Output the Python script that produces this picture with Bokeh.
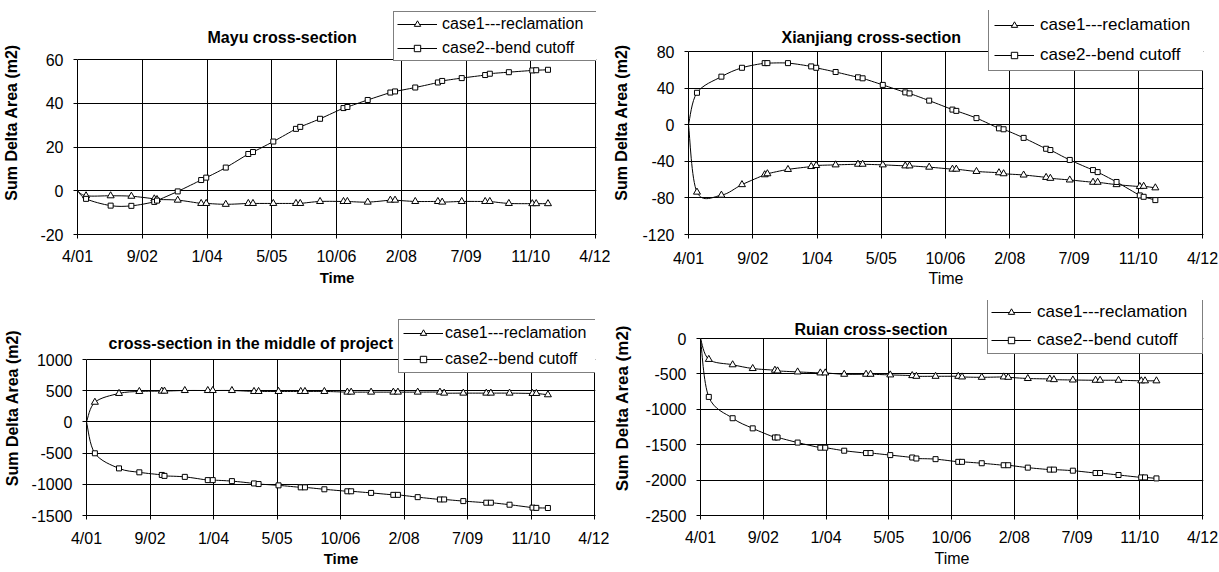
from bokeh.plotting import figure
from bokeh.layouts import column, row
from bokeh.models import (FixedTicker, Legend, LegendItem, Range1d, ColumnDataSource,
                          Label, BoxAnnotation)
from bokeh.embed import file_html
from bokeh.resources import INLINE

# ---------------- data ----------------
# survey dates, as days after the x-axis origin (4/01)
DAYS = [0, 66, 256, 416, 593, 614, 774, 955, 994, 1145, 1319, 1355, 1512, 1687, 1720,
        1873, 2054, 2084, 2241, 2416, 2452, 2608, 2783, 2816, 2967, 3148, 3184, 3331,
        3512, 3542, 3633]
TICK_DAYS = [0, 500, 1000, 1500, 2000, 2500, 3000, 3500, 4000]
TICK_LABELS = ["4/01", "9/02", "1/04", "5/05", "10/06", "2/08", "7/09", "11/10", "4/12"]
SERIES = ["case1---reclamation", "case2--bend cutoff"]

MAYU_CASE1 = [0, -2.3, -2.3, -2.5, -3.7, -4.0, -4.3, -5.8, -5.8, -6.2, -5.8, -5.8, -5.8,
              -5.8, -5.8, -4.9, -4.9, -4.9, -5.2, -4.3, -4.3, -4.9, -4.9, -5.2, -4.9,
              -4.9, -4.9, -5.8, -5.9, -5.9, -5.9]
MAYU_CASE2 = [0, -3.7, -6.8, -6.9, -5.1, -4.5, -0.3, 4.9, 6.0, 10.6, 16.8, 17.7, 22.5,
              28.3, 29.2, 32.9, 37.8, 38.3, 41.5, 44.9, 45.4, 47.2, 49.5, 50.2, 51.5,
              52.9, 53.5, 54.2, 55.0, 55.1, 55.3]
XIAN_CASE1 = [0, -73.7, -77, -65.5, -54.7, -53.6, -48.9, -45.7, -44.6, -43.9, -43.2,
              -43.2, -43.9, -45, -45, -46.4, -48.6, -48.6, -51.1, -52.5, -53.6, -55,
              -57.6, -58.6, -60.4, -62.9, -62.9, -65.5, -67.6, -67.3, -69]
XIAN_CASE2 = [0, 34.9, 52.5, 62.2, 67.3, 67.3, 67.3, 63.7, 62.2, 57.6, 51.8, 50.7, 43.5,
              35.3, 34.2, 26.3, 16.5, 15.1, 7.2, -4.0, -5.0, -14.4, -26.3, -27.7, -38.5,
              -49.6, -51.8, -62.6, -77.3, -78.8, -82.4]
MID_CASE1 = [0, 315, 456, 488, 493, 493, 503, 503, 503, 503, 488, 488, 488, 488, 488,
             488, 477, 477, 477, 477, 477, 477, 477, 461, 461, 461, 461, 461, 456, 456, 435]
MID_CASE2 = [0, -503, -745, -808, -850, -865, -881, -933, -933, -949, -986, -996, -1017,
             -1049, -1049, -1080, -1112, -1112, -1138, -1169, -1169, -1206, -1243, -1243,
             -1269, -1295, -1295, -1327, -1374, -1378, -1380]
RUIAN_CASE1 = [0, -295, -371, -424, -448, -458, -472, -486, -486, -505, -505, -505, -514,
               -524, -534, -534, -534, -543, -548, -543, -548, -565, -572, -581, -586,
               -590, -590, -590, -598, -598, -598]
RUIAN_CASE2 = [0, -825, -1126, -1269, -1398, -1398, -1470, -1542, -1542, -1585, -1618,
               -1618, -1647, -1681, -1695, -1704, -1742, -1742, -1762, -1790, -1790, -1824,
               -1852, -1852, -1867, -1900, -1900, -1928, -1962, -1962, -1976]

FONT = "Liberation Sans"


def smooth_source(xs, ys):
    """Excel-like smoothed line: cubic Bezier segments between consecutive points."""
    n = len(xs)
    d = dict(x0=[], y0=[], x1=[], y1=[], cx0=[], cy0=[], cx1=[], cy1=[])
    for i in range(n - 1):
        xp, yp = (xs[i - 1], ys[i - 1]) if i > 0 else (xs[i], ys[i])
        xn, yn = (xs[i + 2], ys[i + 2]) if i + 2 < n else (xs[i + 1], ys[i + 1])
        d["x0"].append(xs[i]); d["y0"].append(ys[i])
        d["x1"].append(xs[i + 1]); d["y1"].append(ys[i + 1])
        d["cx0"].append(xs[i] + (xs[i + 1] - xp) / 6.0)
        d["cy0"].append(ys[i] + (ys[i + 1] - yp) / 6.0)
        d["cx1"].append(xs[i + 1] - (xn - xs[i]) / 6.0)
        d["cy1"].append(ys[i + 1] - (yn - ys[i]) / 6.0)
    return ColumnDataSource(d)


def make_panel(title, case1, case2, ymin, ymax, ystep, c):
    fw = c["pw"] + 1                     # one spare pixel so the 4/12 line is not clipped
    x_end = TICK_DAYS[-1] * fw / c["pw"]
    # the frame reaches up to the legend; the value axis covers only its lower part
    y_end = ymin + (ymax - ymin) * c["fh"] / c["ph"]
    p = figure(width=c["bl"] + fw + c["br"], height=c["bt"] + c["fh"] + c["bb"],
               frame_width=fw, frame_height=c["fh"], title=None,
               min_border_left=c["bl"], min_border_right=c["br"],
               min_border_top=c["bt"], min_border_bottom=c["bb"],
               x_range=Range1d(0, x_end), y_range=Range1d(ymin, y_end),
               output_backend="svg", toolbar_location=None, tools="")
    p.background_fill_color = "white"
    p.border_fill_color = "white"
    p.outline_line_color = None

    yticks = list(range(ymin, ymax + 1, ystep))
    xa = p.xaxis[0]
    xa.ticker = FixedTicker(ticks=TICK_DAYS)
    xa.major_label_overrides = {t: lab for t, lab in zip(TICK_DAYS, TICK_LABELS)}
    ya = p.yaxis[0]
    ya.ticker = FixedTicker(ticks=yticks)
    ya.major_label_overrides = {t: str(t) for t in yticks}
    ya.bounds = (ymin, ymax)
    for ax in (xa, ya):
        ax.axis_line_color = "black"
        ax.major_tick_line_color = "black"
        ax.major_tick_in = 0
        ax.major_tick_out = 4
        ax.minor_tick_line_color = None
        ax.major_label_text_font = FONT
        ax.major_label_text_font_size = "16px"
        ax.major_label_text_color = "black"
        ax.axis_label_text_font = FONT
        ax.axis_label_text_color = "black"
    xa.major_label_standoff = c["xst"]
    ya.major_label_standoff = 10
    xa.axis_label = "Time"
    xa.axis_label_standoff = c["xlst"]
    xa.axis_label_text_font_style = c["time_style"]
    xa.axis_label_text_font_size = c["time_size"]
    ya.axis_label = "Sum Delta Area (m2)"
    ya.axis_label_standoff = c["ylst"]
    ya.axis_label_text_font_style = "bold"
    ya.axis_label_text_font_size = c["ylab_size"]

    p.xgrid.ticker = FixedTicker(ticks=TICK_DAYS)
    p.ygrid.ticker = FixedTicker(ticks=yticks)
    for g in (p.xgrid[0], p.ygrid[0]):
        g.grid_line_color = "black"
        g.grid_line_width = 1
    try:
        p.xgrid[0].cross_bounds = (ymin, ymax)
    except AttributeError:
        p.add_layout(BoxAnnotation(bottom=ymax, fill_color="white", fill_alpha=1.0,
                                   line_color=None, level="underlay"))

    # chart title, inside the (extended) frame next to the legend
    p.add_layout(Label(x=c["tx"], y=c["ty"], x_units="screen", y_units="screen",
                       text=title, text_font=FONT, text_font_style="bold",
                       text_font_size="16px", text_color="black",
                       text_align="left", text_baseline="middle"))

    items = []
    for name, vals, marker, size in ((SERIES[0], case1, "triangle", 7),
                                     (SERIES[1], case2, "square", 5)):
        p.bezier(x0="x0", y0="y0", x1="x1", y1="y1", cx0="cx0", cy0="cy0",
                 cx1="cx1", cy1="cy1", source=smooth_source(DAYS, vals),
                 line_color="black", line_width=1)
        # single-point line: draws nothing on the plot, only the legend's line sample
        leg_line = p.line(x=DAYS[:1], y=vals[:1], line_color="black", line_width=1)
        sc = p.scatter(x=DAYS[1:], y=vals[1:], marker=marker, size=size,
                       fill_color="white", line_color="black", line_width=1)
        items.append(LegendItem(label=name, renderers=[leg_line, sc]))

    legend = Legend(items=items, location=(c["lx"], c["ly"]), orientation="vertical",
                    border_line_color="black", border_line_width=1,
                    background_fill_color="white", background_fill_alpha=1.0,
                    padding=c["lpad"], spacing=c["lsp"], margin=0,
                    glyph_width=40, glyph_height=16, label_height=16,
                    label_width=c["lw"], label_standoff=c["lst"],
                    label_text_font=FONT, label_text_font_size=c["lfs"],
                    label_text_color="black")
    p.add_layout(legend)
    return p


# layout numbers are page pixels (the page has no margin)
p1 = make_panel("Mayu cross-section", MAYU_CASE1, MAYU_CASE2, -20, 60, 20,
                dict(bl=76, pw=518, br=14, bt=10, fh=224, ph=175, bb=56, tx=130, ty=197,
                     xst=9, xlst=1, ylst=17, time_style="bold", time_size="15px",
                     ylab_size="16px", lx=316, ly=173, lpad=3, lsp=6, lw=153, lst=5,
                     lfs="16px"))
p2 = make_panel("Xianjiang cross-section", XIAN_CASE1, XIAN_CASE2, -120, 80, 40,
                dict(bl=76, pw=514, br=18, bt=10, fh=224, ph=183, bb=56, tx=93, ty=197,
                     xst=11, xlst=0, ylst=9, time_style="normal", time_size="16px",
                     ylab_size="16px", lx=300, ly=163, lpad=5, lsp=10, lw=159, lst=6,
                     lfs="17px"))
p3 = make_panel("cross-section in the middle of project", MID_CASE1, MID_CASE2, -1500, 1000, 500,
                dict(bl=86, pw=508, br=14, bt=10, fh=215, ph=156, bb=56, tx=22, ty=172,
                     xst=10, xlst=0, ylst=8, time_style="bold", time_size="15px",
                     ylab_size="16px", lx=312, ly=142, lpad=4, lsp=8, lw=149, lst=2,
                     lfs="16px"))
p4 = make_panel("Ruian cross-section", RUIAN_CASE1, RUIAN_CASE2, -2500, 0, 500,
                dict(bl=87, pw=502, br=19, bt=10, fh=215, ph=177, bb=56, tx=94, ty=186,
                     xst=9, xlst=1, ylst=11, time_style="normal", time_size="16px",
                     ylab_size="17px", lx=287, ly=161, lpad=3, lsp=8, lw=162, lst=6,
                     lfs="17px"))

layout = column(row(p1, p2), row(p3, p4))
open("out.html", "w").write(file_html(layout, INLINE))
